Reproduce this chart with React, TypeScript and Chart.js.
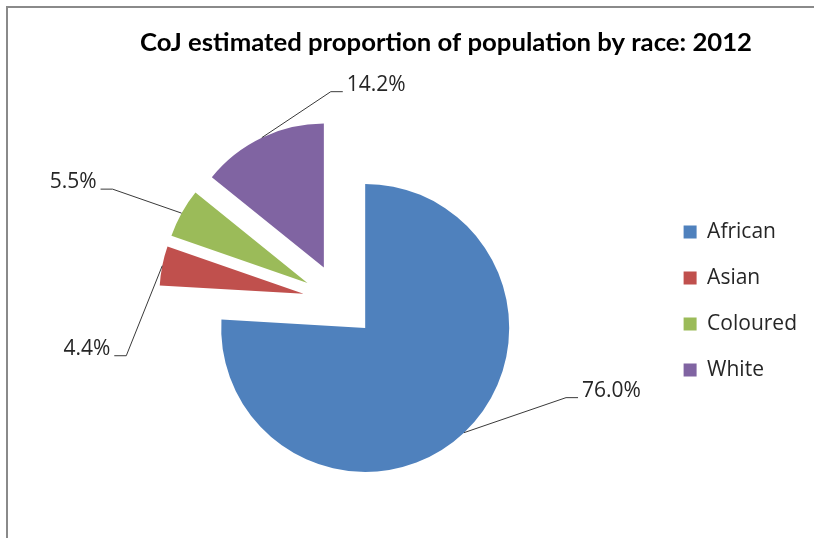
import React, { useEffect, useRef } from 'react';
import { Chart, registerables } from 'chart.js';

Chart.register(...registerables);

// ---- data ----
const TITLE = 'CoJ estimated proportion of population by race: 2012';
const categories = ['African', 'Asian', 'Coloured', 'White'];
const shares = [76.0, 4.4, 5.5, 14.2];
const sliceColors = ['#4F81BD', '#C0504D', '#9BBB59', '#8064A2'];

// ---- layout / style ----
const W = 814;
const H = 538;
const RADIUS = 144;
const EXPLODE = 37;
// leader-line elbow offset from the slice's outer midpoint, and side of the label (+1 right, -1 left)
const LABEL_ELBOWS: number[][] = [
  [102, -35, 1],
  [-36, 90, -1],
  [-69, -24, -1],
  [69, -46, 1],
];
const LEADER_TAIL = 12;
const TEXT_COLOR = '#262626';
const LABEL_FONT = '21px "Open Sans", sans-serif';
const TITLE_FONT = 'bold 25px Lato, sans-serif';
const TITLE_CX = 446;
const TITLE_BASE = 50.5;
const TITLE_WIDTH = 612;

const explodePlugin = {
  id: 'explodeSlices',
  afterDatasetUpdate(_chart: any, args: any) {
    args.meta.data.forEach((arc: any) => {
      const mid = (arc.startAngle + arc.endAngle) / 2;
      arc.x += Math.cos(mid) * EXPLODE;
      arc.y += Math.sin(mid) * EXPLODE;
    });
  },
};

const framePlugin = {
  id: 'frame',
  beforeDraw(chart: any) {
    const ctx = chart.ctx;
    ctx.save();
    ctx.fillStyle = '#ffffff';
    ctx.fillRect(0, 0, W, H);
    ctx.strokeStyle = '#8a8a8a';
    ctx.lineWidth = 2;
    ctx.beginPath();
    ctx.moveTo(W, 7);
    ctx.lineTo(7, 7);
    ctx.lineTo(7, H);
    ctx.stroke();
    ctx.restore();
  },
};

const labelsPlugin = {
  id: 'sliceLabels',
  afterDatasetsDraw(chart: any) {
    const ctx = chart.ctx;
    const meta = chart.getDatasetMeta(0);
    ctx.save();
    ctx.strokeStyle = '#3a3a3a';
    ctx.lineWidth = 1;
    ctx.font = LABEL_FONT;
    ctx.fillStyle = TEXT_COLOR;
    ctx.textBaseline = 'middle';
    meta.data.forEach((arc: any, i: number) => {
      const mid = (arc.startAngle + arc.endAngle) / 2;
      const px = arc.x + Math.cos(mid) * arc.outerRadius;
      const py = arc.y + Math.sin(mid) * arc.outerRadius;
      const [dx, dy, side] = LABEL_ELBOWS[i];
      const ex = px + dx;
      const ey = py + dy;
      const hx = ex + side * LEADER_TAIL;
      ctx.beginPath();
      ctx.moveTo(px, py);
      ctx.lineTo(ex, ey);
      ctx.lineTo(hx, ey);
      ctx.stroke();
      ctx.textAlign = side > 0 ? 'left' : 'right';
      ctx.fillText(shares[i].toFixed(1) + '%', hx + side * 4, ey - 7);
    });
    ctx.restore();
  },
  afterDraw(chart: any) {
    const ctx = chart.ctx;
    ctx.save();
    ctx.font = TITLE_FONT;
    ctx.fillStyle = '#000000';
    ctx.textBaseline = 'alphabetic';
    ctx.textAlign = 'center';
    const w = ctx.measureText(TITLE).width;
    const sx = w > 0 ? TITLE_WIDTH / w : 1;
    ctx.translate(TITLE_CX, TITLE_BASE);
    ctx.scale(sx, 1);
    ctx.fillText(TITLE, 0, 0);
    ctx.restore();
  },
};

export default function App() {
  const ref = useRef<HTMLCanvasElement | null>(null);

  useEffect(() => {
    if (!ref.current) return;
    const chart = new Chart(ref.current, {
      type: 'pie',
      data: {
        labels: categories,
        datasets: [
          {
            data: shares,
            backgroundColor: sliceColors,
            borderWidth: 0,
          },
        ],
      },
      options: {
        responsive: false,
        animation: false,
        devicePixelRatio: 1,
        events: [],
        radius: RADIUS,
        layout: { padding: { left: 21, right: 7, top: 70, bottom: 6 } },
        plugins: {
          title: { display: false },
          tooltip: { enabled: false },
          legend: {
            position: 'right',
            align: 'center',
            labels: {
              boxWidth: 13,
              boxHeight: 13,
              padding: 25,
              color: TEXT_COLOR,
              font: { family: '"Open Sans", sans-serif', size: 21 },
            },
          },
        },
      } as any,
      plugins: [framePlugin, explodePlugin, labelsPlugin],
    });
    return () => chart.destroy();
  }, []);

  return (
    <div style={{ position: 'absolute', left: 0, top: 0, width: W, height: H }}>
      <canvas ref={ref} width={W} height={H} style={{ display: 'block' }} />
    </div>
  );
}
